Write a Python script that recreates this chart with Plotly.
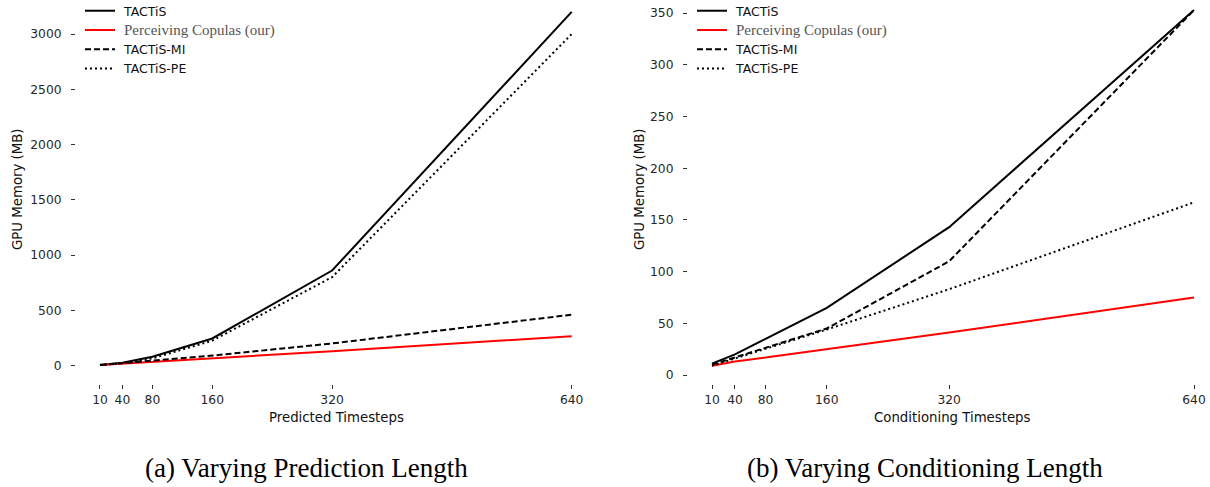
import plotly.graph_objects as go

steps = [10, 40, 80, 160, 320, 640]

# (a) Varying prediction length
pred_tactis = [5, 25, 80, 245, 860, 3200]
pred_ours = [4, 16, 32, 65, 130, 265]
pred_mi = [5, 20, 45, 90, 200, 460]
pred_pe = [5, 22, 65, 225, 800, 3000]

# (b) Varying conditioning length
cond_tactis = [11, 20, 35, 65, 143, 353]
cond_ours = [9, 13, 17, 25, 41, 75]
cond_mi = [10, 17, 26, 45, 110, 353]
cond_pe = [9, 16, 25, 44, 83, 167]

names = ["\u00a0TACTiS",
         '\u00a0<span style="font-family:Liberation Serif;font-size:15px;fill:#555555">Perceiving Copulas (our)</span>',
         "\u00a0TACTiS-MI", "\u00a0TACTiS-PE"]
styles = [dict(color="black", width=2, dash="solid"),
          dict(color="#ff0000", width=2, dash="solid"),
          dict(color="black", width=2, dash="6px,3px"),
          dict(color="black", width=2, dash="2px,3px")]

fig = go.Figure()
for name, ys, st in zip(names, [pred_tactis, pred_ours, pred_mi, pred_pe], styles):
    fig.add_trace(go.Scatter(x=steps, y=ys, mode="lines", name=name, line=st,
                             xaxis="x", yaxis="y", legend="legend"))
for name, ys, st in zip(names, [cond_tactis, cond_ours, cond_mi, cond_pe], styles):
    fig.add_trace(go.Scatter(x=steps, y=ys, mode="lines", name=name, line=st,
                             xaxis="x2", yaxis="y2", legend="legend2"))

W, H = 1210, 487
tickfont = dict(family="DejaVu Sans", size=12.3, color="#262626")
common_ax = dict(showgrid=False, zeroline=False, showline=False, ticks="outside",
                 ticklen=4, tickwidth=1, tickcolor="#333333", tickfont=tickfont,
                 automargin=False)
ydom = [1 - 384 / H, 1]

fig.update_layout(
    width=W, height=H, margin=dict(l=0, r=0, t=0, b=0, autoexpand=False),
    plot_bgcolor="white", paper_bgcolor="white",
    xaxis=dict(domain=[76 / W, 595.6 / W], range=[-22, 671.9],
               tickvals=steps, ticklabelstandoff=0, **common_ax),
    yaxis=dict(domain=ydom, range=[-167, 3308], ticklabelstandoff=7,
               tickvals=[0, 500, 1000, 1500, 2000, 2500, 3000], anchor="x", **common_ax),
    xaxis2=dict(domain=[688 / W, 1.0], range=[-21.4, 660.9], ticklabelstandoff=0,
                tickvals=steps, anchor="y2", **common_ax),
    yaxis2=dict(domain=ydom, range=[-8.7, 362.7], ticklabelstandoff=7,
                tickvals=[0, 50, 100, 150, 200, 250, 300, 350], anchor="x2", **common_ax),
    legend=dict(x=80 / W, y=1.008, xanchor="left", yanchor="top", bgcolor="rgba(0,0,0,0)",
                font=dict(family="DejaVu Sans", size=12.5, color="#111111"),
                tracegroupgap=0, itemwidth=30),
    legend2=dict(x=692 / W, y=1.008, xanchor="left", yanchor="top", bgcolor="rgba(0,0,0,0)",
                 font=dict(family="DejaVu Sans", size=12.5, color="#111111"),
                 tracegroupgap=0, itemwidth=30),
)

ann = []
titlefont = dict(family="DejaVu Sans", size=13.3, color="#111111")
# x axis titles
ann.append(dict(text="Predicted Timesteps", x=336 / W, y=1 - 417 / H, xref="paper", yref="paper",
                xanchor="center", yanchor="middle", showarrow=False, font=titlefont))
ann.append(dict(text="Conditioning Timesteps", x=952 / W, y=1 - 417 / H, xref="paper", yref="paper",
                xanchor="center", yanchor="middle", showarrow=False, font=titlefont))
# y axis titles
for xp in [18, 640]:
    ann.append(dict(text="GPU Memory (MB)", x=xp / W, y=1 - 189 / H, xref="paper", yref="paper",
                    xanchor="center", yanchor="middle",
                    showarrow=False, textangle=-90, font=titlefont))
# captions
ann.append(dict(text="(a) Varying Prediction Length", x=306 / W, y=1 - 468 / H, xref="paper",
                yref="paper", showarrow=False, xanchor="center", yanchor="middle",
                font=dict(family="Liberation Serif", size=27, color="#000000")))
ann.append(dict(text="(b) Varying Conditioning Length", x=925 / W, y=1 - 468 / H, xref="paper",
                yref="paper", showarrow=False, xanchor="center", yanchor="middle",
                font=dict(family="Liberation Serif", size=27, color="#000000")))
fig.update_layout(annotations=ann)

fig.write_html("out.html", config={"displayModeBar": False},
               post_script="document.body.style.margin='0';document.body.style.overflow='hidden';")
